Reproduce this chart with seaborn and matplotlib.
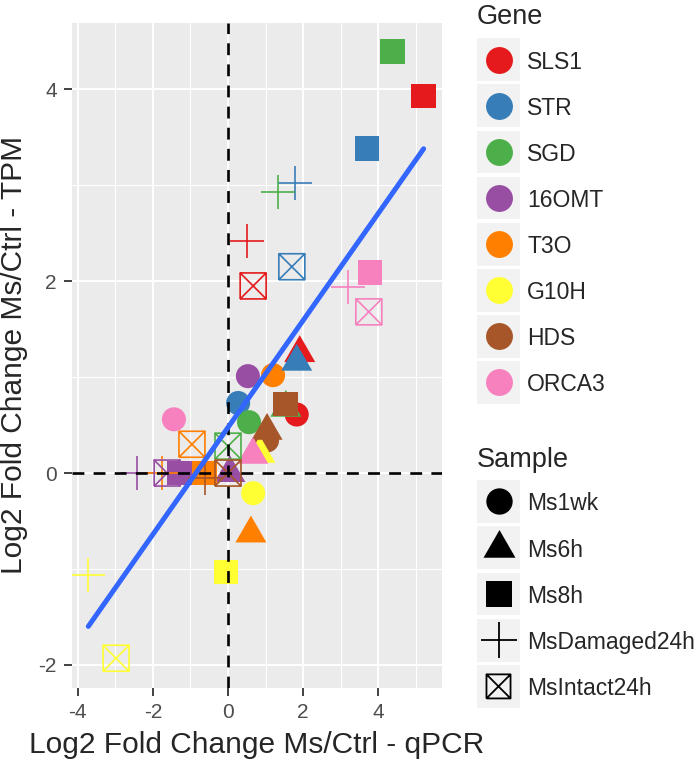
import numpy as np
import pandas as pd
import matplotlib
matplotlib.use("Agg")
import matplotlib.pyplot as plt
from matplotlib.path import Path
from matplotlib.patches import Rectangle
import seaborn as sns

# genes and samples (legend order)
genes = ["SLS1", "STR", "SGD", "16OMT", "T3O", "G10H", "HDS", "ORCA3"]
samples = ["Ms1wk", "Ms6h", "Ms8h", "MsDamaged24h", "MsIntact24h"]
gene_colors = ["#E41A1C", "#377EB8", "#4DAF4A", "#984EA3",
               "#FF7F00", "#FFFF33", "#A65628", "#F781BF"]

# log2 fold changes, one list per sample, values in gene order
ms1wk_qpcr = [1.83, 0.27, 0.56, 0.53, 1.20, 0.67, 1.04, -1.44]
ms1wk_tpm = [0.61, 0.73, 0.53, 1.01, 1.02, -0.21, 0.34, 0.56]
ms6h_qpcr = [1.91, 1.83, 1.54, 0.05, 0.61, 0.85, 1.04, 0.66]
ms6h_tpm = [1.25, 1.16, 0.68, 0.00, -0.63, 0.20, 0.44, 0.19]
ms8h_qpcr = [5.21, 3.70, 4.39, -1.30, -0.62, -0.05, 1.54, 3.78]
ms8h_tpm = [3.93, 3.38, 4.39, 0.00, 0.00, -1.03, 0.72, 2.09]
msdam_qpcr = [0.51, 1.78, 1.33, -2.42, -1.76, -3.72, -0.61, 3.19]
msdam_tpm = [2.42, 3.02, 2.93, 0.00, 0.00, -1.06, -0.05, 1.94]
msint_qpcr = [0.67, 1.70, 0.00, -1.62, -0.96, -2.98, 0.00, 3.75]
msint_tpm = [1.95, 2.15, 0.28, 0.00, 0.30, -1.93, 0.00, 1.68]

x_ticks = [-4, -2, 0, 2, 4]
y_ticks = [-2, 0, 2, 4]

qpcr_all = [ms1wk_qpcr, ms6h_qpcr, ms8h_qpcr, msdam_qpcr, msint_qpcr]
tpm_all = [ms1wk_tpm, ms6h_tpm, ms8h_tpm, msdam_tpm, msint_tpm]

rows = []
for samp, xs, ys in zip(samples, qpcr_all, tpm_all):
    for g, xv, yv in zip(genes, xs, ys):
        rows.append({"Gene": g, "Sample": samp, "qPCR": xv, "TPM": yv})
df = pd.DataFrame(rows)

# markers like ggplot shapes 16, 17, 15, 3, 7
tri = [(0, 1), (-0.866, -0.5), (0.866, -0.5)]
xbox = Path([(-1, -1), (1, -1), (1, 1), (-1, 1), (-1, -1),
             (-1, -1), (1, 1), (-1, 1), (1, -1)],
            [Path.MOVETO, Path.LINETO, Path.LINETO, Path.LINETO, Path.LINETO,
             Path.MOVETO, Path.LINETO, Path.MOVETO, Path.LINETO])
markers = ["o", tri, "s", "+", xbox]
msizes = [300, 665, 316, 600, 350]
is_line = [False, False, False, True, True]

sns.set_style("white")
plt.rcParams["font.family"] = ["Liberation Sans", "DejaVu Sans"]
plt.rcParams["axes.unicode_minus"] = False

fig = plt.figure(figsize=(7, 7.63), dpi=100)
W, H = 700, 763
ax = fig.add_axes([72 / W, 1 - 688 / H, 370 / W, 665 / H])
ax.set_facecolor("#EBEBEB")

pal = dict(zip(genes, gene_colors))
for samp, m, sz, ln in zip(samples, markers, msizes, is_line):
    sub = df[df["Sample"] == samp]
    sns.scatterplot(data=sub, x="qPCR", y="TPM", hue="Gene", hue_order=genes,
                    palette=pal, marker=m, s=sz, linewidth=1.2 if ln else 0,
                    legend=False, ax=ax, zorder=3)
    if ln:
        coll = ax.collections[-1]
        cols = coll.get_facecolors()
        coll.set_edgecolors(cols)
        coll.set_facecolors("none")
        coll.set_linewidths(1.2)

ax.axhline(0, color="black", lw=1.9, ls=(0, (4.5, 3.5)), zorder=4)
ax.axvline(0, color="black", lw=1.9, ls=(0, (4.5, 3.5)), zorder=4)

sns.regplot(data=df, x="qPCR", y="TPM", scatter=False, ci=None, truncate=True,
            color="#3366FF", line_kws={"lw": 3.6, "zorder": 5}, ax=ax)

ax.set_xlim(-4.154, 5.699)
ax.set_ylim(-2.24, 4.69)
ax.set_xticks(x_ticks)
ax.set_yticks(y_ticks)
ax.set_xticks([-3, -1, 1, 3, 5], minor=True)
ax.set_yticks([-1, 1, 3], minor=True)
ax.grid(True, which="major", color="white", lw=1.4, zorder=0)
ax.grid(True, which="minor", color="white", lw=0.75, zorder=0)
ax.set_axisbelow(True)
for sp in ax.spines.values():
    sp.set_visible(False)
ax.tick_params(which="major", length=6, width=1.3, color="#333333",
               labelsize=15, labelcolor="#4D4D4D", pad=5, left=True, bottom=True)
ax.tick_params(which="minor", length=0)
ax.set_xlabel("")
ax.set_ylabel("")

fig.text(257 / W, 1 - 753 / H, "Log2 Fold Change Ms/Ctrl - qPCR",
         ha="center", va="baseline", fontsize=21.5)
fig.text(0 / W, 1 - 355 / H, "Log2 Fold Change Ms/Ctrl - TPM",
         ha="left", va="center", rotation=90, fontsize=21.5)

# legends drawn in pixel coords
lg = fig.add_axes([0, 0, 1, 1], zorder=10)
lg.set_xlim(0, W)
lg.set_ylim(H, 0)
lg.axis("off")
lg.patch.set_alpha(0)

key_x, key_w, key_h, step = 477, 43, 42.8, 46.1
lg.text(477, 24, "Gene", fontsize=19.5, va="baseline", ha="left")
for i, (g, c) in enumerate(zip(genes, gene_colors)):
    top = 38.3 + i * step
    lg.add_patch(Rectangle((key_x, top), key_w, key_h, color="#F2F2F2", lw=0))
    lg.scatter([key_x + key_w / 2], [top + key_h / 2], s=375, color=c,
               marker="o", linewidths=0)
    lg.text(527, top + key_h / 2, g, fontsize=16.5, va="center_baseline", ha="left")

key_sizes = [360, 707, 325, 708, 300]
lg.text(477, 467, "Sample", fontsize=19.5, va="baseline", ha="left")
for i, (sname, m, sz, ln) in enumerate(zip(samples, markers, key_sizes, is_line)):
    top = 480 + i * 46.25
    cx, cy = key_x + key_w / 2, top + key_h / 2
    lg.add_patch(Rectangle((key_x, top), key_w, key_h, color="#F2F2F2", lw=0))
    if m == "+":
        lg.scatter([cx], [cy], s=sz, marker=m, c="black", linewidths=1.3)
    elif ln:
        lg.scatter([cx], [cy], s=sz, marker=m,
                   facecolors="none", edgecolors="black", linewidths=1.3)
    else:
        lg.scatter([cx], [cy], s=sz, marker=m, color="black", linewidths=0)
    lg.text(527, cy, sname, fontsize=16.5, va="center_baseline", ha="left")

fig.savefig("out.png", dpi=100)
